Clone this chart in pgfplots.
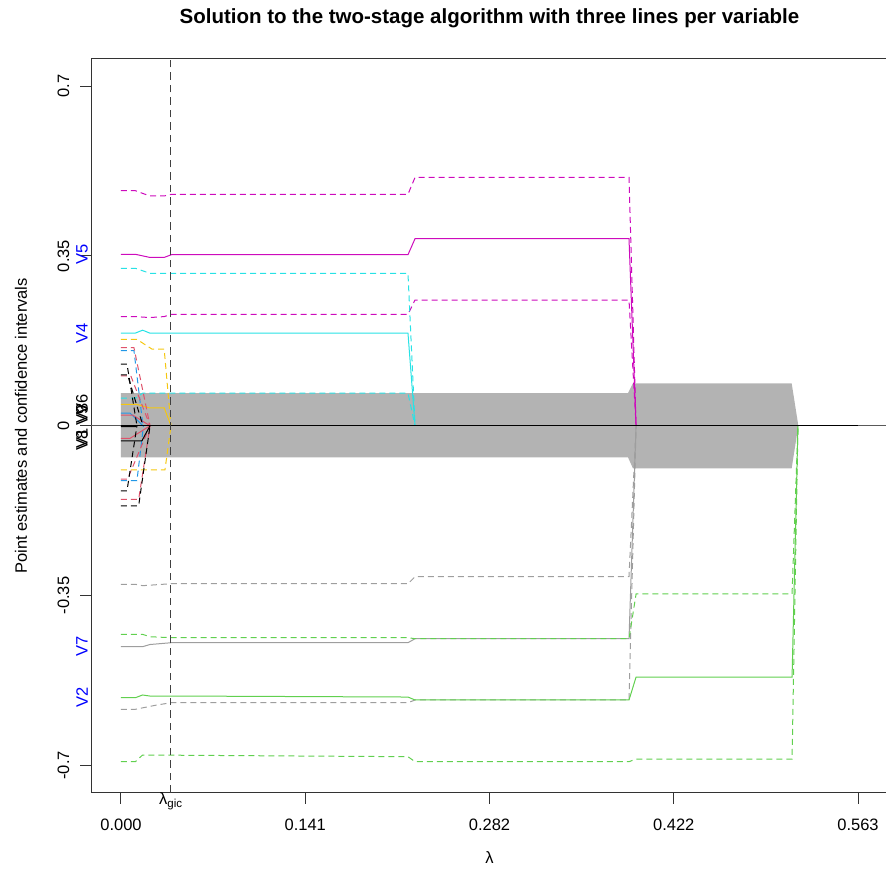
\documentclass[border=0pt]{standalone}
\usepackage{pgfplots}
\pgfplotsset{compat=1.18}
\usepackage{fontspec}
\setmainfont{Liberation Sans}
\definecolor{pinkR}{HTML}{DF536B}
\definecolor{greenR}{HTML}{61D04F}
\definecolor{blueR}{HTML}{2297E6}
\definecolor{cyanR}{HTML}{28E2E5}
\definecolor{magR}{HTML}{CD0BBC}
\definecolor{yelR}{HTML}{F5C710}
\definecolor{grayR}{HTML}{9E9E9E}
\definecolor{bandgray}{HTML}{B3B3B3}
\newcommand{\fs}{\fontsize{16.5}{18}\selectfont}
\begin{document}
\begin{tikzpicture}
\useasboundingbox (0,0) rectangle (886pt,879pt);
\begin{axis}[
  at={(91.5pt,86.5pt)}, anchor=south west,
  scale only axis, width=796pt, height=733.5pt,
  xmin=-0.02253, xmax=0.58573, ymin=-0.756, ymax=0.756,
  clip=false,
  axis line style={black!80, line width=1pt},
  tick align=outside, major tick length=11pt,
  tick style={black!80, line width=1pt},
  xtick pos=left, ytick pos=left,
  xtick={0,0.1408,0.2816,0.4224,0.5632},
  xticklabels={0.000,0.141,0.282,0.422,0.563},
  ytick={-0.7,-0.35,0,0.35,0.7},
  yticklabels={-0.7,-0.35,0,0.35,0.7},
  ticklabel style={font=\fs, inner sep=0pt},
  xticklabel style={anchor=north},
  yticklabel style={rotate=90, anchor=south},
  xticklabel shift=15pt, yticklabel shift=11pt,
  extra x ticks={0.0382},
  extra x tick labels={λ\textsubscript{gic}},
  extra x tick style={major tick length=0pt, xticklabel style={yshift=15pt}},
  every axis plot/.append style={line width=1pt},
]
% band
\addplot[fill=bandgray, draw=none, line width=0pt] coordinates {(0,0.0672) (0.3874,0.0672) (0.3912,0.0875) (0.5125,0.0875) (0.5176,0) (0.5125,-0.0877) (0.3912,-0.0877) (0.3874,-0.065) (0,-0.065)} --cycle;
% abline h=0
\addplot[black!65] coordinates {(-0.02253,0) (0.58573,0)};
% V5 magenta
\addplot[magR] coordinates {(0,0.3534) (0.011,0.3534) (0.022,0.347) (0.033,0.347) (0.0385,0.3525) (0.2193,0.3525) (0.2247,0.3856) (0.3882,0.3856) (0.3936,0)};
\addplot[magR, dash pattern=on 6pt off 4pt] coordinates {(0,0.4845) (0.011,0.4845) (0.022,0.4736) (0.033,0.4736) (0.0385,0.4771) (0.2193,0.4771) (0.2247,0.512) (0.3882,0.512) (0.3936,0)};
\addplot[magR, dash pattern=on 6pt off 4pt] coordinates {(0,0.225) (0.011,0.225) (0.022,0.223) (0.033,0.225) (0.0385,0.2297) (0.2193,0.2297) (0.2247,0.2592) (0.3882,0.2592) (0.3936,0)};
% V4 cyan
\addplot[cyanR] coordinates {(0,0.191) (0.011,0.191) (0.0165,0.197) (0.022,0.191) (0.2193,0.191) (0.2247,0)};
\addplot[cyanR, dash pattern=on 6pt off 4pt] coordinates {(0,0.3246) (0.011,0.3246) (0.022,0.3143) (0.2193,0.3143) (0.2247,0)};
\addplot[cyanR, dash pattern=on 6pt off 4pt] coordinates {(0,0.057) (0.011,0.057) (0.0165,0.0672) (0.2193,0.0672) (0.2247,0)};
% V7 gray
\addplot[grayR] coordinates {(0,-0.4555) (0.0165,-0.4555) (0.022,-0.451) (0.0385,-0.4472) (0.2193,-0.4472) (0.2247,-0.439) (0.3882,-0.439) (0.3936,0)};
\addplot[grayR, dash pattern=on 6pt off 4pt] coordinates {(0,-0.3268) (0.011,-0.3268) (0.0165,-0.3297) (0.0385,-0.3256) (0.2193,-0.3256) (0.2247,-0.3112) (0.3882,-0.3112) (0.3936,0)};
\addplot[grayR, dash pattern=on 6pt off 4pt] coordinates {(0,-0.5845) (0.011,-0.5845) (0.0275,-0.5756) (0.0385,-0.5709) (0.2193,-0.5709) (0.2247,-0.5653) (0.3882,-0.5653) (0.3936,0)};
% V2 green
\addplot[greenR] coordinates {(0,-0.5606) (0.011,-0.5606) (0.0165,-0.555) (0.022,-0.5571) (0.0385,-0.5571) (0.2193,-0.5592) (0.2247,-0.5653) (0.3882,-0.5653) (0.3936,-0.518) (0.5128,-0.518) (0.5173,0)};
\addplot[greenR, dash pattern=on 6pt off 4pt] coordinates {(0,-0.4299) (0.0165,-0.4299) (0.022,-0.4349) (0.0385,-0.4369) (0.2193,-0.4369) (0.2247,-0.439) (0.3882,-0.439) (0.3936,-0.3468) (0.5128,-0.3468) (0.5173,0)};
\addplot[greenR, dash pattern=on 6pt off 4pt] coordinates {(0,-0.6925) (0.011,-0.6925) (0.0165,-0.6787) (0.2193,-0.6822) (0.2247,-0.6925) (0.3882,-0.6925) (0.3936,-0.687) (0.5128,-0.687) (0.5173,0)};
% V6 yellow
\addplot[yelR] coordinates {(0,0.044) (0.0122,0.044) (0.0214,0.037) (0.033,0.037) (0.0382,0)};
\addplot[yelR, dash pattern=on 6pt off 4pt] coordinates {(0,0.178) (0.0122,0.178) (0.0237,0.158) (0.033,0.158) (0.0382,0)};
\addplot[yelR, dash pattern=on 6pt off 4pt] coordinates {(0,-0.091) (0.0336,-0.091) (0.0382,0)};
% V3 blue
\addplot[blueR] coordinates {(0,0.026) (0.007,0.026) (0.0168,0)};
\addplot[blueR, dash pattern=on 6pt off 4pt] coordinates {(0,0.155) (0.0099,0.155) (0.0168,0)};
\addplot[blueR, dash pattern=on 6pt off 4pt] coordinates {(0,-0.113) (0.0122,-0.113) (0.0172,0)};
% V9 pink
\addplot[pinkR] coordinates {(0,0.022) (0.009,0.022) (0.0222,0)};
\addplot[pinkR, dash pattern=on 6pt off 4pt] coordinates {(0,0.103) (0.0075,0.103) (0.0222,0)};
\addplot[pinkR, dash pattern=on 6pt off 4pt] coordinates {(0,-0.110) (0.005,-0.110) (0.0222,0)};
% V1 pink
\addplot[pinkR] coordinates {(0,-0.026) (0.0069,-0.026) (0.0222,0)};
\addplot[pinkR, dash pattern=on 6pt off 4pt] coordinates {(0,0.161) (0.0099,0.161) (0.0222,0)};
\addplot[pinkR, dash pattern=on 6pt off 4pt] coordinates {(0,-0.152) (0.0135,-0.152) (0.0222,0)};
% black variables
\addplot[black] coordinates {(0,-0.031) (0.016,-0.031) (0.0222,0)};
\addplot[black, dash pattern=on 6pt off 4pt] coordinates {(0,0.127) (0.0046,0.127) (0.0122,0)};
\addplot[black, dash pattern=on 6pt off 4pt] coordinates {(0,-0.134) (0.0046,-0.134) (0.0122,0)};
\addplot[black] coordinates {(0,-0.002) (0.011,-0.002) (0.0122,0)};
\addplot[black, dash pattern=on 6pt off 4pt] coordinates {(0,0.105) (0.005,0.105) (0.0168,0)};
\addplot[black, dash pattern=on 6pt off 4pt] coordinates {(0,-0.165) (0.0135,-0.165) (0.0222,0)};
% zero line of collapsed estimates
\addplot[black] coordinates {(0,0) (0.5632,0)};
% lambda gic
\addplot[black!75, line width=1pt, dash pattern=on 7.5pt off 5pt] coordinates {(0.0382,-0.756) (0.0382,0.756)};
% variable labels
\node[xshift=-9.5pt, rotate=90, text=blue, font=\fs] at (axis cs:-0.02253,0.3534) {V5};
\node[xshift=-9.5pt, rotate=90, text=blue, font=\fs] at (axis cs:-0.02253,0.191) {V4};
\node[xshift=-9.5pt, rotate=90, text=blue, font=\fs] at (axis cs:-0.02253,-0.4555) {V7};
\node[xshift=-9.5pt, rotate=90, text=blue, font=\fs] at (axis cs:-0.02253,-0.5606) {V2};
\node[xshift=-9.5pt, rotate=90, font=\fs] at (axis cs:-0.02253,0.044) {V6};
\node[xshift=-9.5pt, rotate=90, font=\fs] at (axis cs:-0.02253,0.026) {V3};
\node[xshift=-9.5pt, rotate=90, font=\fs] at (axis cs:-0.02253,0.022) {V9};
\node[xshift=-9.5pt, rotate=90, font=\fs] at (axis cs:-0.02253,-0.026) {V1};
\node[xshift=-9.5pt, rotate=90, font=\fs] at (axis cs:-0.02253,-0.031) {V8};
\end{axis}
\node[font=\fontsize{20.5}{22}\selectfont\bfseries] at (489.5pt,861pt) {Solution to the two-stage algorithm with three lines per variable};
\node[rotate=90, font=\fs] at (21pt,453.25pt) {Point estimates and confidence intervals};
\node[font=\fs] at (489.5pt,21pt) {λ};
\end{tikzpicture}
\end{document}
